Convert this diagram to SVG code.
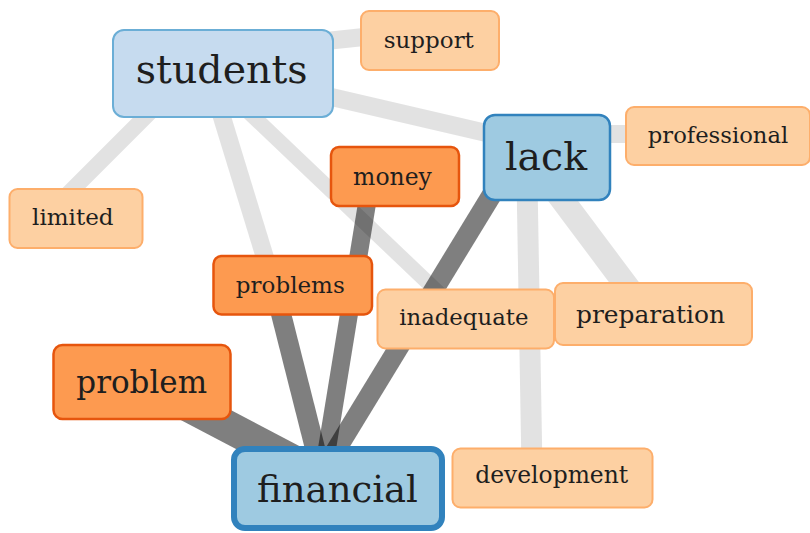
<svg xmlns="http://www.w3.org/2000/svg" width="810" height="533" viewBox="0 0 810 533">
<style>
.lt{stroke:#000;stroke-opacity:0.115;fill:none;stroke-linecap:butt}
.dk{stroke:#000;stroke-opacity:0.5;fill:none;stroke-linecap:butt}
.t{font-family:"DejaVu Serif",serif;fill:#1e1e1e;text-anchor:middle}
.pale rect{fill:#fdd0a2;stroke:#fdae6b;stroke-width:2}
.mid rect{fill:#fd9a50;stroke:#e6550d;stroke-width:2.5}
.sb rect{fill:#c6dbef;stroke:#6baed6;stroke-width:2}
.db rect{fill:#9ecae1;stroke:#3182bd;stroke-width:2.5}
</style>
<rect width="810" height="533" fill="#fff"/>
<g id="connectors">
<line class="lt" x1="260" y1="48" x2="430" y2="30" stroke-width="18"/>
<line class="lt" x1="250" y1="78" x2="546" y2="147" stroke-width="18"/>
<line class="lt" x1="176" y1="86" x2="60" y2="202" stroke-width="16"/>
<line class="lt" x1="210" y1="78" x2="278" y2="300" stroke-width="18"/>
<line class="lt" x1="215" y1="80" x2="465" y2="318" stroke-width="15"/>
<line class="lt" x1="600" y1="134" x2="680" y2="134" stroke-width="18"/>
<line class="lt" x1="540" y1="170" x2="650" y2="317" stroke-width="24"/>
<line class="lt" x1="527" y1="180" x2="532" y2="470" stroke-width="21"/>
<line class="dk" x1="141" y1="381" x2="337" y2="484" stroke-width="32"/>
<line class="dk" x1="275" y1="290" x2="318" y2="460" stroke-width="20"/>
<line class="dk" x1="370" y1="185" x2="326" y2="455" stroke-width="18"/>
<line class="dk" x1="510" y1="165" x2="330" y2="460" stroke-width="20"/>
</g>
<g id="node-support" class="pale"><rect x="361" y="11" width="138" height="59" rx="8"/><text class="t" x="428.8" y="47.7" font-size="23">support</text></g>
<g id="node-students" class="sb"><rect x="113" y="30" width="220" height="87" rx="11"/><text class="t" x="221.7" y="83" font-size="39.5">students</text></g>
<g id="node-professional" class="pale"><rect x="626" y="107" width="184" height="58" rx="8"/><text class="t" x="718" y="143.3" font-size="22.7">professional</text></g>
<g id="node-lack" class="db"><rect x="484" y="115" width="126" height="85" rx="11"/><text class="t" x="546" y="170" font-size="39.4">lack</text></g>
<g id="node-limited" class="pale"><rect x="9.5" y="189" width="133" height="59" rx="8"/><text class="t" x="72.8" y="225" font-size="23">limited</text></g>
<g id="node-money" class="mid"><rect x="331" y="147" width="128" height="59" rx="8"/><text class="t" x="392.5" y="185" font-size="23.5">money</text></g>
<g id="node-problems" class="mid"><rect x="213.5" y="256" width="158.5" height="58.5" rx="8"/><text class="t" x="290.3" y="292.7" font-size="23">problems</text></g>
<g id="node-inadequate" class="pale"><rect x="377.5" y="289.5" width="176.5" height="59" rx="8"/><text class="t" x="463.8" y="325" font-size="22.8">inadequate</text></g>
<g id="node-preparation" class="pale"><rect x="555" y="283" width="197" height="62" rx="8"/><text class="t" x="650.5" y="322.7" font-size="24.9">preparation</text></g>
<g id="node-problem" class="mid"><rect x="53.5" y="345" width="177" height="74" rx="9"/><text class="t" x="141.7" y="393.3" font-size="31">problem</text></g>
<g id="node-development" class="pale"><rect x="452.5" y="448.5" width="200" height="59" rx="8"/><text class="t" x="551.7" y="483.3" font-size="23.4">development</text></g>
<g id="node-financial" class="db"><rect x="234" y="449" width="208" height="79" rx="11" style="stroke-width:6"/><text class="t" x="337.5" y="501.7" font-size="37">financial</text></g>
</svg>
